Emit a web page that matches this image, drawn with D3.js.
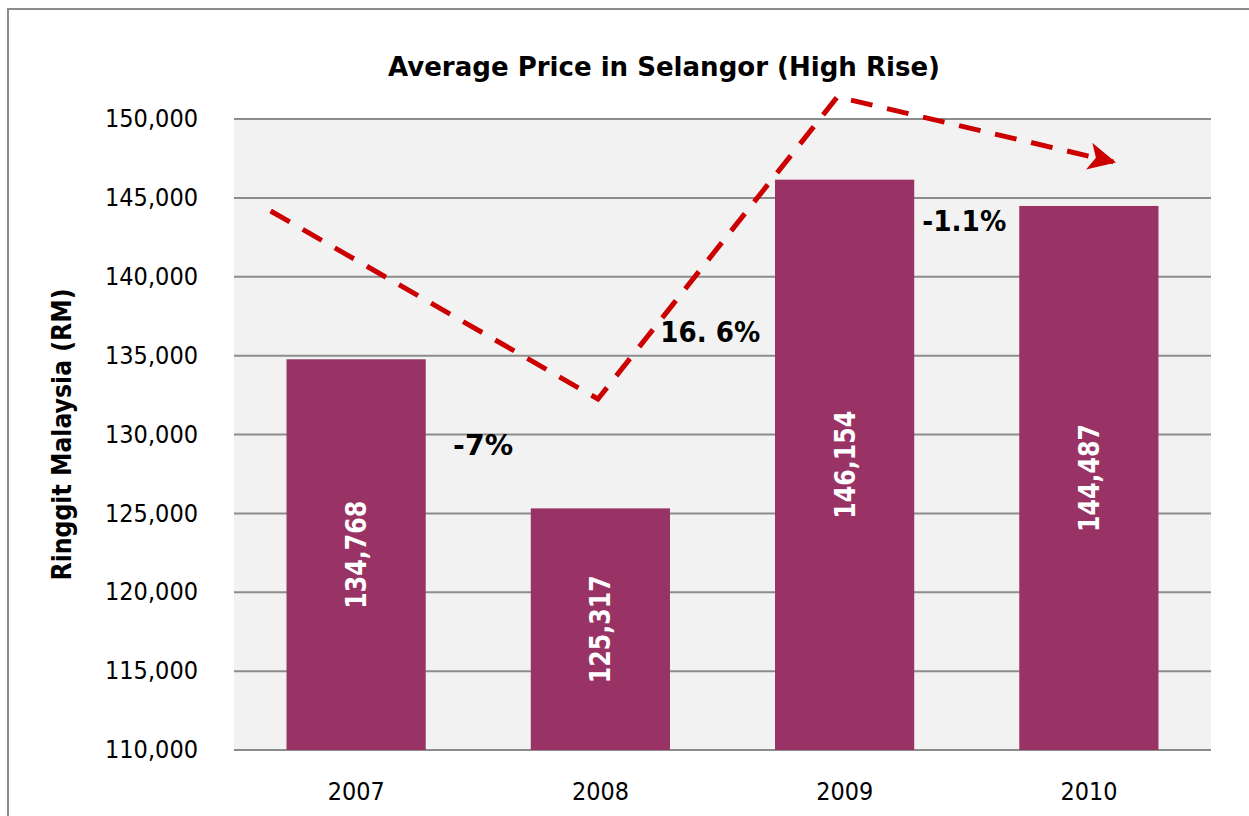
<!DOCTYPE html>
<html>
<head>
<meta charset="utf-8">
<script src="https://cdn.jsdelivr.net/npm/d3@7"></script>
<style>
  body { margin: 0; background: #fff; }
  svg { display: block; font-family: "DejaVu Sans", sans-serif; }
</style>
</head>
<body>
<svg width="1249" height="816"></svg>
<script>
// data
var years = ["2007", "2008", "2009", "2010"];
var prices = [134768, 125317, 146154, 144487];
var yTicks = [110000, 115000, 120000, 125000, 130000, 135000, 140000, 145000, 150000];

// dashed trend arrow, x as bar index, y in RM
var trendX = [-0.35, 0.99, 1.97, 3.10];
var trendY = [144170, 132250, 151400, 147280];

// change labels
var changeText = ["-7%", "16. 6%", "-1.1%"];
var changeX = [0.52, 1.45, 2.49];
var changeY = [128700, 135870, 142900];
var changeLen = [60, 100, 84];

var svg = d3.select("svg"),
  margin = { top: 119, right: 38, bottom: 66, left: 234 },
  width = +svg.attr("width") - margin.left - margin.right,
  height = +svg.attr("height") - margin.top - margin.bottom;

// outer border
svg.append("rect")
  .attr("x", 8).attr("y", 9)
  .attr("width", 1260).attr("height", 830)
  .attr("fill", "none")
  .attr("stroke", "#8c8c8c")
  .attr("stroke-width", 2);

var g = svg.append("g")
  .attr("transform", "translate(" + margin.left + "," + margin.top + ")");

var xScale = d3.scaleBand().domain(years).range([0, width])
  .paddingInner(0.43).paddingOuter(0.215);
var yScale = d3.scaleLinear().domain([110000, 150000]).range([height, 0]);
var xIdx = d3.scaleLinear().domain([0, 3])
  .range([xScale(years[0]) + xScale.bandwidth() / 2, xScale(years[3]) + xScale.bandwidth() / 2]);

g.append("rect")
  .attr("width", width).attr("height", height)
  .attr("fill", "#f2f2f2");

// grid lines
g.selectAll(".grid")
  .data(yTicks)
  .enter().append("line")
  .attr("x1", 0).attr("x2", width)
  .attr("y1", function (d) { return yScale(d); })
  .attr("y2", function (d) { return yScale(d); })
  .attr("stroke", "#8c8c8c")
  .attr("stroke-width", 2);

// y axis
var yAxis = g.append("g")
  .call(d3.axisLeft(yScale).tickValues(yTicks).tickSize(0).tickPadding(36)
    .tickFormat(d3.format(",")));
yAxis.select(".domain").remove();
yAxis.selectAll("text")
  .attr("fill", "#000")
  .attr("textLength", 93)
  .attr("lengthAdjust", "spacingAndGlyphs")
  .style("font-family", "DejaVu Sans")
  .style("font-size", "24px");

// x axis
var xAxis = g.append("g")
  .attr("transform", "translate(0," + height + ")")
  .call(d3.axisBottom(xScale).tickSize(0).tickPadding(33));
xAxis.select(".domain").remove();
xAxis.selectAll("text")
  .attr("fill", "#000")
  .attr("textLength", 57)
  .attr("lengthAdjust", "spacingAndGlyphs")
  .style("font-family", "DejaVu Sans")
  .style("font-size", "24px");

// bars
g.selectAll(".bar")
  .data(prices)
  .enter().append("rect")
  .attr("x", function (d, i) { return xScale(years[i]); })
  .attr("y", function (d) { return yScale(d); })
  .attr("width", xScale.bandwidth())
  .attr("height", function (d) { return height - yScale(d); })
  .attr("fill", "#993366");

// bar value labels
g.selectAll(".barlabel")
  .data(prices)
  .enter().append("text")
  .attr("transform", function (d, i) {
    var cx = xScale(years[i]) + xScale.bandwidth() / 2;
    var cy = (yScale(d) + height) / 2;
    return "translate(" + cx + "," + cy + ") rotate(-90)";
  })
  .attr("text-anchor", "middle")
  .attr("dy", "0.36em")
  .attr("fill", "#fff")
  .attr("textLength", 108)
  .attr("lengthAdjust", "spacingAndGlyphs")
  .style("font-size", "28px")
  .style("font-weight", "bold")
  .text(function (d) { return d3.format(",")(d); });

// dashed trend line with arrow
svg.append("defs").append("marker")
  .attr("id", "arrow")
  .attr("viewBox", "0 0 10 10")
  .attr("refX", 9).attr("refY", 5)
  .attr("markerWidth", 5.5).attr("markerHeight", 5.5)
  .attr("markerUnits", "strokeWidth")
  .attr("orient", "auto")
  .append("path")
  .attr("d", "M0,0 L10,5 L0,10 L2.5,5 Z")
  .attr("fill", "#cc0000");

var trendLine = d3.line()
  .x(function (d, i) { return xIdx(trendX[i]); })
  .y(function (d) { return yScale(d); });

g.append("path")
  .datum(trendY)
  .attr("fill", "none")
  .attr("stroke", "#cc0000")
  .attr("stroke-width", 5)
  .attr("stroke-dasharray", "22,15")
  .attr("marker-end", "url(#arrow)")
  .attr("d", trendLine);

// change labels
g.selectAll(".chg")
  .data(changeText)
  .enter().append("text")
  .attr("x", function (d, i) { return xIdx(changeX[i]); })
  .attr("y", function (d, i) { return yScale(changeY[i]); })
  .attr("text-anchor", "middle")
  .attr("fill", "#000")
  .attr("textLength", function (d, i) { return changeLen[i]; })
  .attr("lengthAdjust", "spacingAndGlyphs")
  .style("font-size", "28px")
  .style("font-weight", "bold")
  .text(function (d) { return d; });

// title
svg.append("text")
  .attr("x", 664).attr("y", 76)
  .attr("text-anchor", "middle")
  .attr("textLength", 552)
  .attr("lengthAdjust", "spacingAndGlyphs")
  .style("font-size", "26px")
  .style("font-weight", "bold")
  .text("Average Price in Selangor (High Rise)");

// y axis title
svg.append("text")
  .attr("transform", "translate(71," + (margin.top + height / 2) + ") rotate(-90)")
  .attr("text-anchor", "middle")
  .attr("textLength", 292)
  .attr("lengthAdjust", "spacingAndGlyphs")
  .style("font-size", "27px")
  .style("font-weight", "bold")
  .text("Ringgit Malaysia (RM)");
</script>
</body>
</html>
